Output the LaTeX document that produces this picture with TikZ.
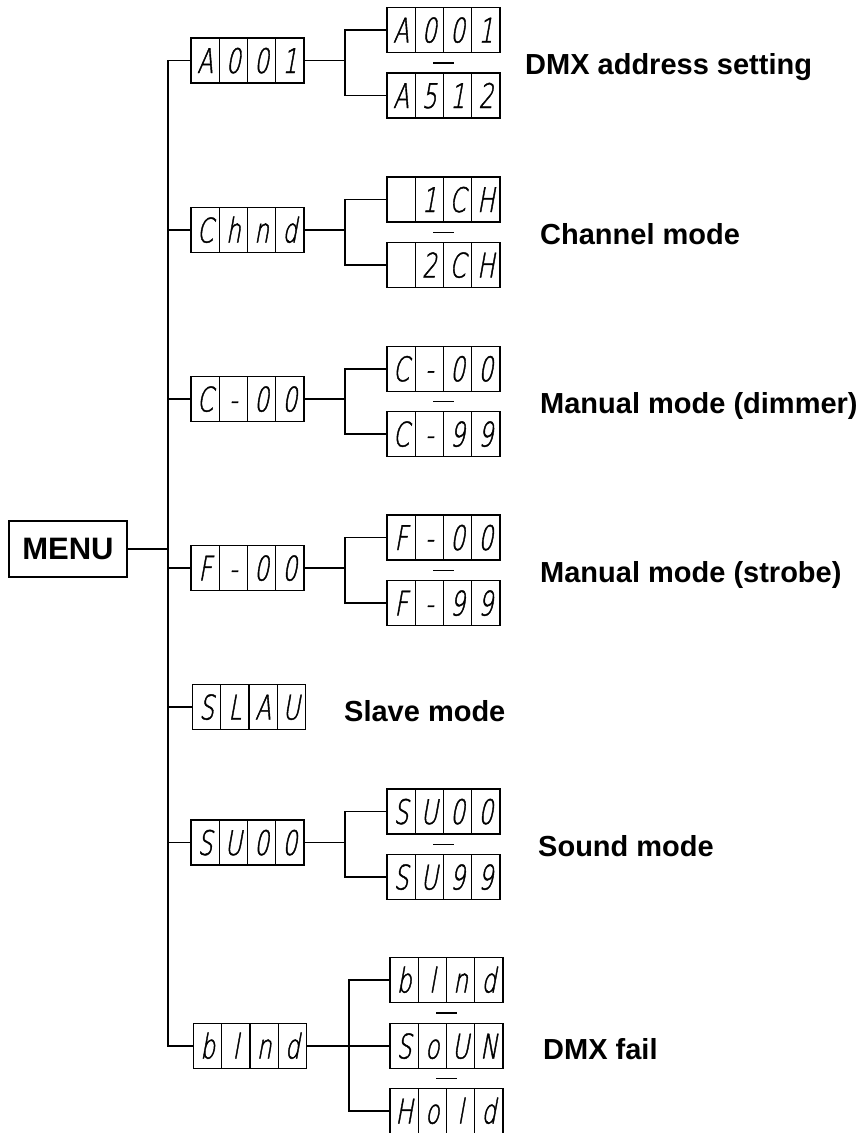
\documentclass[tikz,border=0pt]{standalone}
\usepackage{fontspec}
\setmainfont{Liberation Sans}
\IfFontExistsTF{DejaVu Sans ExtraLight}
  {\newfontfamily\segfont[FakeSlant=0.18,FakeStretch=0.68,FakeBold=1.2]{DejaVu Sans ExtraLight}}
  {\newfontfamily\segfont[FakeSlant=0.18,FakeStretch=0.68]{Liberation Sans}}
\usetikzlibrary{calc}
\newcommand\cells[4]{\makebox[28.25pt]{#1}\makebox[28.25pt]{#2}\makebox[28.25pt]{#3}\makebox[28.25pt]{#4}}

\begin{document}
\begin{tikzpicture}[
  x=1pt, y=-1pt,
  disp/.style={draw, line width=1.4pt, minimum width=113pt, minimum height=45pt,
               inner sep=0pt, text height=25pt, text depth=0pt,
               font=\segfont\fontsize{34}{40}\selectfont,
               path picture={\foreach \k in {1,2,3}
                 \draw[line width=1.1pt] ([xshift=\k*28.25pt]path picture bounding box.north west)
                   -- ([xshift=\k*28.25pt]path picture bounding box.south west);}},
  menubox/.style={draw, line width=1.6pt, minimum width=118pt, minimum height=56pt,
                  inner sep=0pt, font=\bfseries\fontsize{31}{36}\selectfont},
  lbl/.style={anchor=base west, inner sep=0pt, font=\bfseries\fontsize{29}{34}\selectfont},
  wire/.style={line width=1.7pt},
  sep/.style={line width=1.5pt}
]
\useasboundingbox (0,0) rectangle (865,1133);
\coordinate (tk) at (168,0);
\coordinate (tk2) at (345,0);
\coordinate (tk3) at (349,0);
\node[menubox] (menu) at (68,549) {MENU};
% first level
\node[disp] (adr) at (247.5,60.5) {\cells{A}{0}{0}{1}};
\node[disp] (chn) at (247.5,230)  {\cells{C}{h}{n}{d}};
\node[disp] (dim) at (247.5,399)  {\cells{C}{-}{0}{0}};
\node[disp] (stb) at (247.5,568)  {\cells{F}{-}{0}{0}};
\node[disp] (slv) at (249,707)    {\cells{S}{L}{A}{U}};
\node[disp] (snd) at (247.5,842.5){\cells{S}{U}{0}{0}};
\node[disp] (fail) at (250,1046)  {\cells{b}{l}{n}{d}};
% second level
\node[disp] (adrlo) at (443.5,30)    {\cells{A}{0}{0}{1}};
\node[disp] (adrhi) at (443.5,95.5)  {\cells{A}{5}{1}{2}};
\node[disp] (chn1) at (443.5,199.5)  {\cells{}{1}{C}{H}};
\node[disp] (chn2) at (443.5,265)    {\cells{}{2}{C}{H}};
\node[disp] (dim0) at (443.5,368.7)  {\cells{C}{-}{0}{0}};
\node[disp] (dim9) at (443.5,434)    {\cells{C}{-}{9}{9}};
\node[disp] (stb0) at (443.5,537.5)  {\cells{F}{-}{0}{0}};
\node[disp] (stb9) at (443.5,603)    {\cells{F}{-}{9}{9}};
\node[disp] (snd0) at (443.5,811.5)  {\cells{S}{U}{0}{0}};
\node[disp] (snd9) at (443.5,877)    {\cells{S}{U}{9}{9}};
\node[disp] (failb) at (446.5,980)   {\cells{b}{l}{n}{d}};
\node[disp] (fails) at (446.5,1046)  {\cells{S}{o}{U}{N}};
\node[disp] (failh) at (446.5,1111)  {\cells{H}{o}{l}{d}};
% labels
\node[lbl] (tadr) at (525,74)  {DMX address setting};
\node[lbl] (tchn) at (540,244) {Channel mode};
\node[lbl] (tdim) at (540,413) {Manual mode (dimmer)};
\node[lbl] (tstb) at (540,582) {Manual mode (strobe)};
\node[lbl] (tslv) at (344,721) {Slave mode};
\node[lbl] (tsnd) at (538,856) {Sound mode};
\node[lbl] (tfail) at (543,1059) {DMX fail};
% main trunk
\draw[wire] (adr.west) -- (adr.west -| tk) -- (fail.west -| tk) -- (fail.west);
\draw[wire] (menu.east) -- (menu.east -| tk);
\foreach \n in {chn,dim,stb,slv,snd}
  \draw[wire] (\n.west) -- (\n.west -| tk);
% brackets
\foreach \a/\lo/\hi in {adr/adrlo/adrhi, chn/chn1/chn2, dim/dim0/dim9, stb/stb0/stb9, snd/snd0/snd9}{
  \draw[wire] (\lo.west) -- (\lo.west -| tk2) -- (\hi.west -| tk2) -- (\hi.west);
  \draw[wire] (\a.east) -- (\a.east -| tk2);
  \draw[sep] ($(\lo.south)!.5!(\hi.north)+(-10.5,0)$) -- +(21,0);
}
\draw[wire] (failb.west) -- (failb.west -| tk3) -- (failh.west -| tk3) -- (failh.west);
\draw[wire] (fail.east) -- (fails.west);
\draw[sep] ($(failb.south)!.5!(fails.north)+(-10.5,0)$) -- +(21,0);
\draw[sep] ($(fails.south)!.5!(failh.north)+(-10.5,0)$) -- +(21,0);
\end{tikzpicture}
\end{document}
